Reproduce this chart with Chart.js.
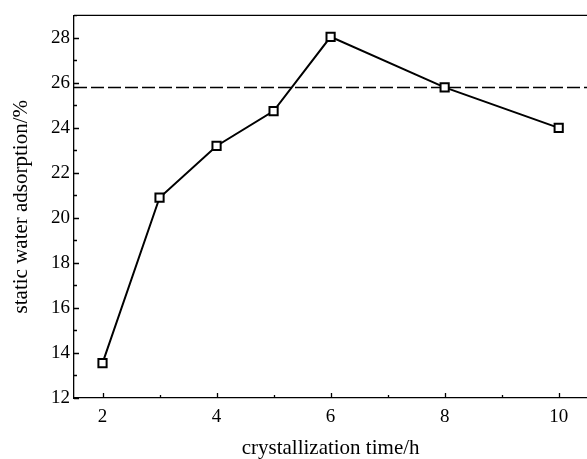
<!DOCTYPE html>
<html>
<head>
<meta charset="utf-8">
<script src="https://cdn.jsdelivr.net/npm/chart.js@4/dist/chart.umd.min.js"></script>
<style>
  html, body { margin: 0; padding: 0; background: #fff; overflow: hidden; }
  #wrap { width: 595px; height: 461px; }
</style>
</head>
<body>
<div id="wrap"><canvas id="chart1"></canvas></div>
<script>
// crystallization time (h) and static water adsorption (%)
const crystTime = [2, 3, 4, 5, 6, 8, 10];
const adsorption = [13.55, 20.9, 23.2, 24.75, 28.05, 25.8, 24.0];
const refLevel = 25.8;
const xTicks = [2, 4, 6, 8, 10];
const yTicks = [12, 14, 16, 18, 20, 22, 24, 26, 28];

const fontName = "'Liberation Serif', 'Times New Roman', serif";

// ticks drawn inward, plus the top frame line
const innerTicks = {
  id: 'innerTicks',
  afterDraw(chart) {
    const ctx = chart.ctx;
    const area = chart.chartArea;
    const xs = chart.scales.x;
    const ys = chart.scales.y;
    ctx.save();
    ctx.strokeStyle = '#000';
    ctx.lineWidth = 1.3;
    ctx.beginPath();
    ctx.moveTo(area.left, area.top);
    ctx.lineTo(area.right, area.top);
    for (let v = 2; v <= 10; v++) {
      const px = Math.round(xs.getPixelForValue(v)) + 0.5;
      const len = v % 2 === 0 ? 5 : 3;
      ctx.moveTo(px, area.bottom);
      ctx.lineTo(px, area.bottom - len);
    }
    for (let v = 12; v <= 29; v++) {
      const py = Math.round(ys.getPixelForValue(v)) + 0.5;
      const len = v % 2 === 0 ? 5 : 3;
      ctx.moveTo(area.left, py);
      ctx.lineTo(area.left + len, py);
    }
    ctx.stroke();
    ctx.restore();
  }
};

var ctx = document.getElementById('chart1');
var myChart = new Chart(ctx, {
  type: 'line',
  data: {
    datasets: [
      {
        data: crystTime.map((x, i) => ({ x: x, y: adsorption[i] })),
        borderColor: '#000',
        borderWidth: 2,
        pointStyle: 'rect',
        pointRadius: 5.8,
        pointBorderWidth: 2,
        pointBackgroundColor: '#fff',
        pointBorderColor: '#000',
        tension: 0,
        order: 1
      },
      {
        data: [{ x: 1.5, y: refLevel }, { x: 10.5, y: refLevel }],
        borderColor: '#000',
        borderWidth: 1.5,
        borderDash: [13, 4],
        pointRadius: 0,
        order: 2
      }
    ]
  },
  options: {
    responsive: true,
    maintainAspectRatio: false,
    animation: false,
    events: [],
    layout: { padding: { top: 15, right: 5, left: 0, bottom: 0 } },
    plugins: {
      legend: { display: false },
      tooltip: { enabled: false }
    },
    scales: {
      x: {
        type: 'linear',
        min: 1.5,
        max: 10.5,
        afterBuildTicks: (scale) => { scale.ticks = xTicks.map(v => ({ value: v })); },
        afterFit: (scale) => { scale.height = 63; },
        grid: { display: false, drawTicks: false },
        border: { display: true, color: '#000', width: 1.3 },
        ticks: { color: '#000', padding: 8, font: { family: fontName, size: 19 }, maxRotation: 0 },
        title: {
          display: true,
          text: 'crystallization time/h',
          color: '#000',
          padding: { top: 2, bottom: 0 },
          font: { family: fontName, size: 21 }
        }
      },
      y: {
        min: 12,
        max: 29,
        afterBuildTicks: (scale) => { scale.ticks = yTicks.map(v => ({ value: v })); },
        afterFit: (scale) => { scale.width = 74; },
        grid: { display: false, drawTicks: false },
        border: { display: true, color: '#000', width: 1.3 },
        ticks: { color: '#000', padding: 4, font: { family: fontName, size: 19 } },
        title: {
          display: true,
          text: 'static water adsorption/%',
          color: '#000',
          padding: { top: 9, bottom: 0 },
          font: { family: fontName, size: 21 }
        }
      }
    }
  },
  plugins: [innerTicks]
});
</script>
</body>
</html>
